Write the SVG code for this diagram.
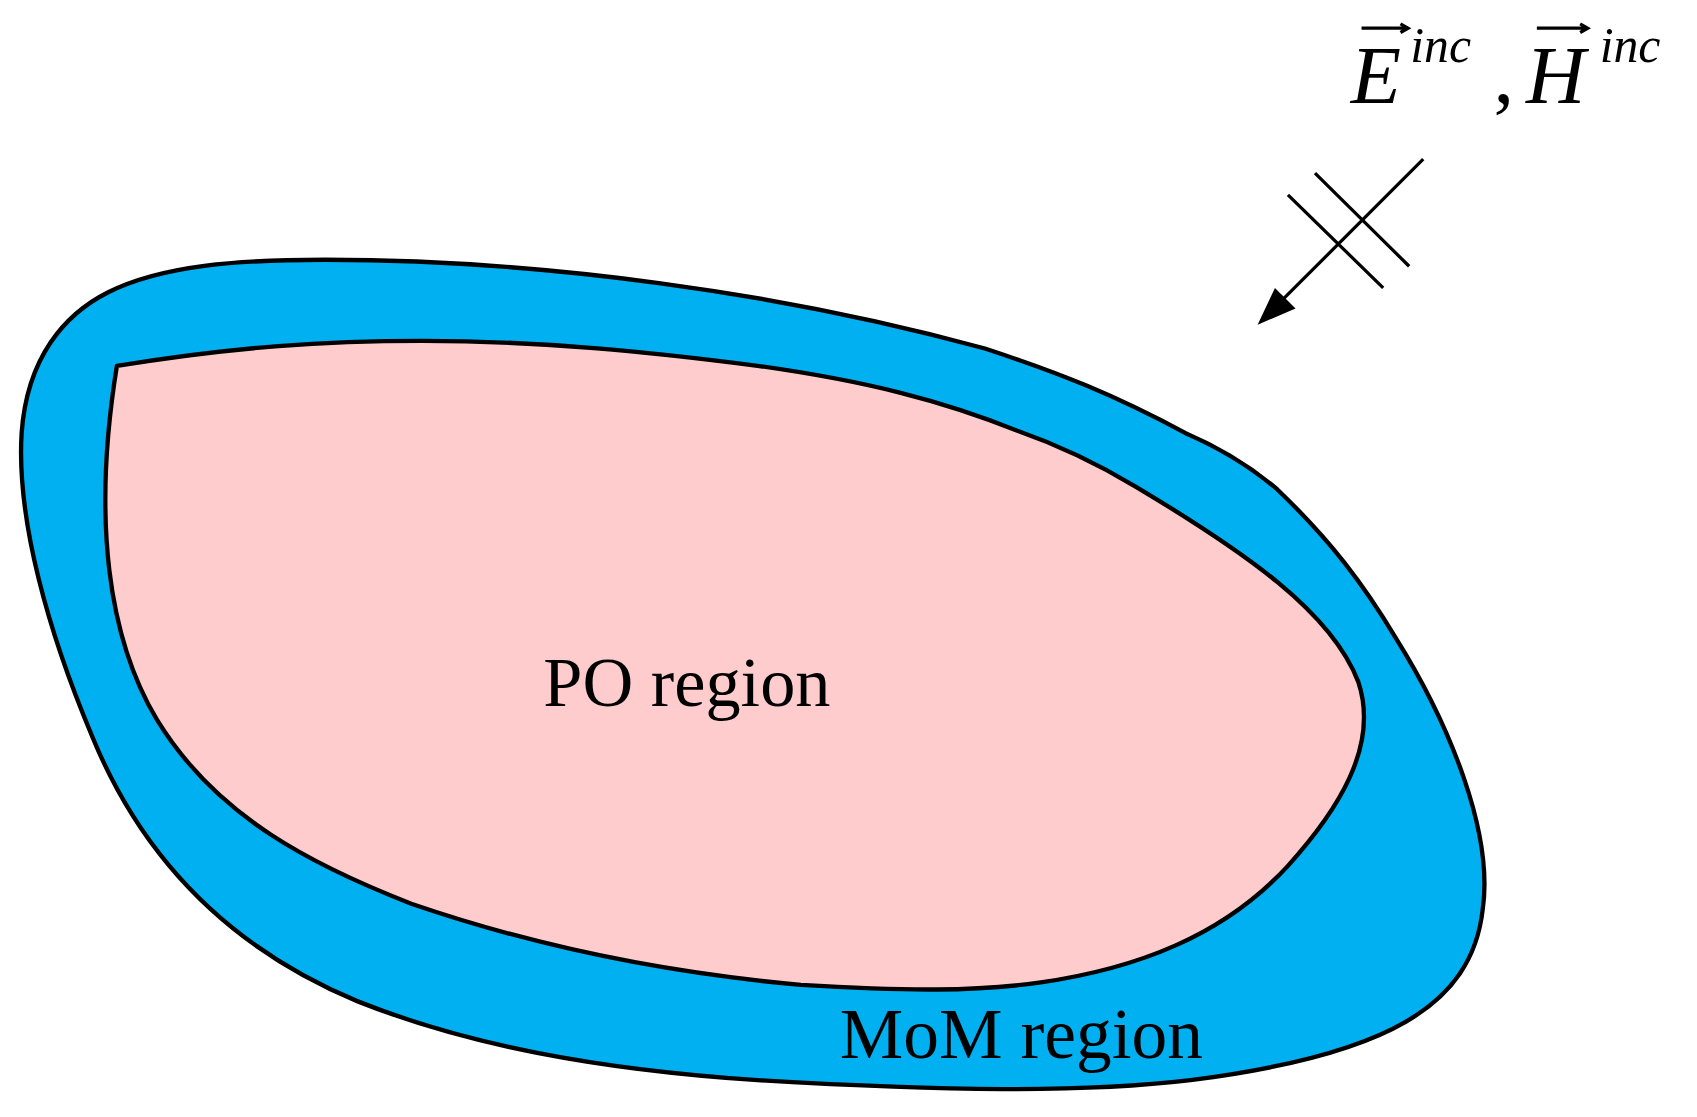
<svg xmlns="http://www.w3.org/2000/svg" width="1697" height="1117" viewBox="0 0 1697 1117">
<style>
.sh{stroke:#000;stroke-width:4;stroke-linejoin:round}
.t{font-family:"Liberation Serif",serif;fill:#000}
.ln{stroke:#000;stroke-width:3;fill:none}
</style>
<rect width="1697" height="1117" fill="#fff"/>
<g transform="scale(1.0823)">
<g id="mom">
<path class="sh" fill="#00b0f0" d="M300,240 C500,240 720,270 910,322 C980,345 1030,365 1095,400 C1130,415 1160,435 1180,452 C1230,500 1260,540 1290,590 C1340,670 1380,770 1370,840 C1360,930 1280,975 1100,998 C1000,1010 870,1008 700,998 C550,988 430,965 330,925 C210,875 130,790 85,680 C45,585 15,480 20,400 C25,330 60,290 100,270 C150,245 220,240 300,240 Z"/>
</g>
<g id="po">
<path class="sh" fill="#fecccc" d="M108,338 C220,320 300,315 390,315 C500,315 600,325 700,338 C800,352 870,370 940,398 C980,412 1020,432 1050,450 C1150,510 1230,565 1255,630 C1275,690 1235,750 1190,800 C1130,865 1050,895 960,908 C900,916 840,916 740,910 C650,902 520,883 380,835 C290,800 200,755 145,665 C100,590 85,480 108,338 Z"/>
</g>
<g id="labels">
<text class="t" x="502" y="652" font-size="65">PO region</text>
<text class="t" x="776" y="978" font-size="66">MoM region</text>
<text class="t" x="1248" y="95" font-size="76" font-style="italic">E</text>
<text class="t" x="1303" y="57" font-size="46" font-style="italic">inc</text>
<text class="t" x="1380" y="95" font-size="76">,</text>
<text class="t" x="1410" y="95" font-size="76" font-style="italic">H</text>
<text class="t" x="1478" y="57" font-size="46" font-style="italic">inc</text>
<path class="ln" stroke-width="2.5" d="M1258,26 H1300 M1294,22 L1301,26 L1294,30 M1420,26 H1466 M1460,22 L1467,26 L1460,30"/>
</g>
<g id="connectors">
<path class="ln" d="M1315,147 L1180,282 M1190,180 L1278,266 M1215,160 L1302,246"/>
<path d="M1162,300 L1178,266 L1197,285 Z" fill="#000"/>
</g>
</g>
</svg>
